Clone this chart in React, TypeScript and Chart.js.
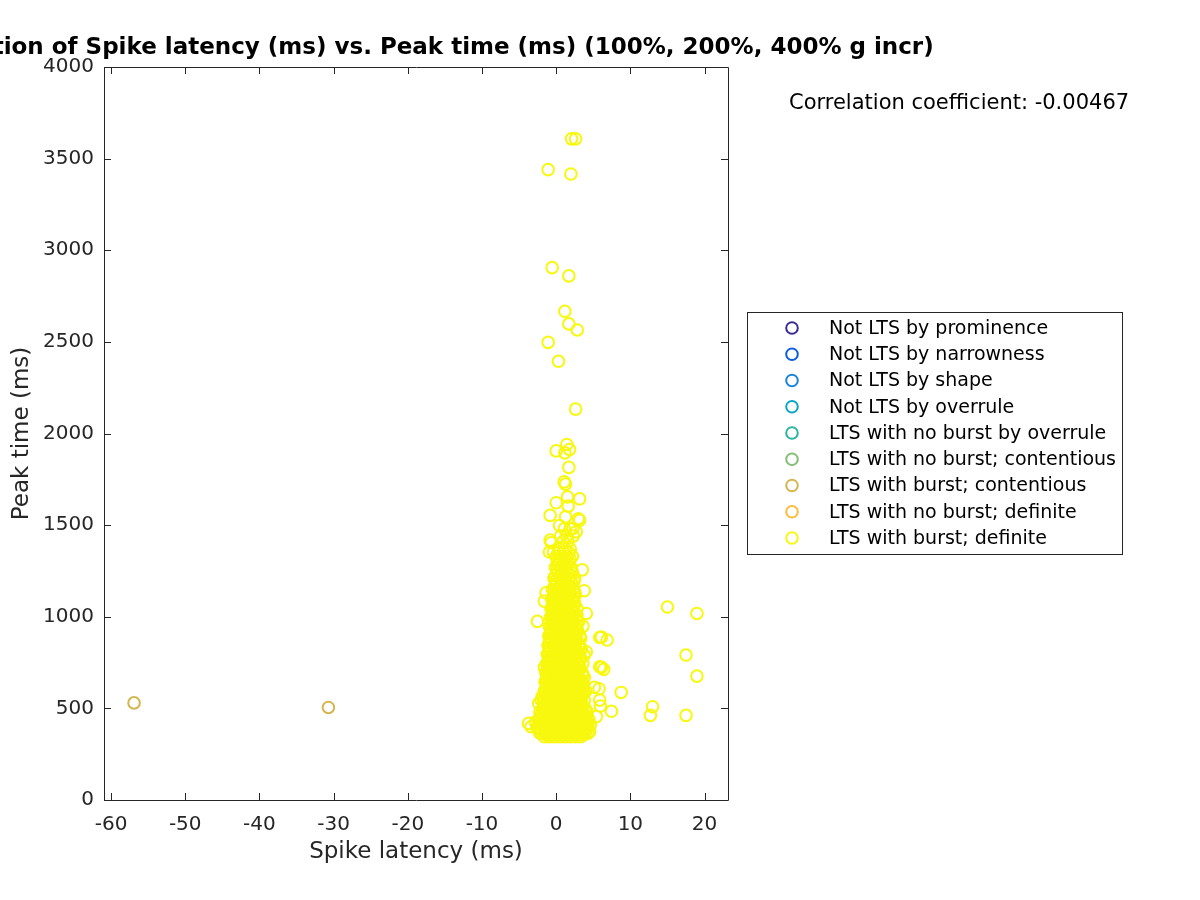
import React, { useEffect, useRef } from "react";
import { Chart, registerables } from "chart.js";

Chart.register(...registerables);

const seriesLabels = [
  "Not LTS by prominence",
  "Not LTS by narrowness",
  "Not LTS by shape",
  "Not LTS by overrule",
  "LTS with no burst by overrule",
  "LTS with no burst; contentious",
  "LTS with burst; contentious",
  "LTS with no burst; definite",
  "LTS with burst; definite",
];

const seriesColors = [
  "#3b2d91",
  "#0f5ddf",
  "#1a84d8",
  "#0aa6c6",
  "#2cb59f",
  "#87be76",
  "#d4b651",
  "#fbbd3a",
  "#f8f80f",
];

const notLtsProminence: number[][] = [];
const notLtsNarrowness: number[][] = [];
const notLtsShape: number[][] = [];
const notLtsOverrule: number[][] = [];
const ltsNoBurstOverrule: number[][] = [];
const ltsNoBurstContentious: number[][] = [];
const ltsBurstContentious: number[][] = [
  [-56.9, 530],
  [-30.7, 505],
];
const ltsNoBurstDefinite: number[][] = [];

// scattered outliers of "LTS with burst; definite"
const burstDefiniteOutliers: number[][] = [
  [2.07, 3608], [2.62, 3608], [-1.08, 3440], [1.98, 3416], [-0.54, 2905],
  [1.71, 2860], [1.17, 2667], [1.71, 2598], [2.85, 2565], [-1.08, 2497],
  [0.31, 2394], [2.62, 2133], [1.44, 1940], [0.0, 1905], [1.17, 1894],
  [1.8, 1913], [1.71, 1815], [1.08, 1736], [1.26, 1724], [3.16, 1643],
  [0.0, 1622], [1.53, 1654], [1.62, 1604], [-0.81, 1553], [2.98, 1535],
  [3.16, 1527], [1.26, 1545], [0.45, 1498], [2.71, 1464], [2.25, 1482],
  [-0.81, 1418], [-0.91, 1353], [-0.68, 1404], [-0.37, 1354], [3.52, 1256],
  [3.79, 1142], [4.06, 1018], [-2.53, 975], [-1.36, 1131], [-1.59, 1085],
  [3.61, 949], [5.87, 887], [6.86, 873], [6.1, 889], [4.06, 809], [3.79, 791],
  [-1.59, 724], [-1.36, 655], [5.87, 727], [6.41, 713], [6.1, 724],
  [5.15, 615], [5.78, 607], [8.76, 587], [-1.9, 564], [-2.35, 527],
  [5.87, 545], [5.96, 513], [7.45, 484], [13.0, 509], [12.7, 462],
  [17.5, 462], [-3.71, 418], [-3.39, 400], [-2.03, 364], [5.42, 455],
  [4.51, 373], [15.0, 1053], [18.97, 1018], [17.5, 791], [18.97, 676],
];

// dense core of "LTS with burst; definite": [peak time, ...spike latencies]
const burstDefiniteCore: number[][] = [
  [345, -1.6, -0.9, -0.2, 0.5, 1.2, 1.9, 2.6, 3.3],
  [365, -2.2, -1.3, -0.6, 0.1, 0.8, 1.5, 2.2, 2.9, 3.6, 4.3],
  [380, -1.9, -1.0, -0.3, 0.4, 1.1, 1.8, 2.5, 3.2, 3.9],
  [395, -2.6, -1.5, -0.8, -0.1, 0.6, 1.3, 2.0, 2.7, 3.4, 4.1],
  [410, -2.1, -1.2, -0.5, 0.2, 0.9, 1.6, 2.3, 3.0, 3.7, 4.6],
  [425, -2.8, -1.7, -0.9, -0.2, 0.5, 1.2, 1.9, 2.6, 3.3, 4.0],
  [440, -2.3, -1.4, -0.6, 0.1, 0.8, 1.5, 2.2, 2.9, 3.6, 4.4],
  [460, -1.9, -1.1, -0.3, 0.4, 1.1, 1.8, 2.5, 3.2, 3.9],
  [480, -2.2, -1.4, -0.7, 0.0, 0.7, 1.4, 2.1, 2.8, 3.5, 4.2],
  [500, -1.8, -1.0, -0.3, 0.4, 1.1, 1.8, 2.5, 3.2, 3.9],
  [520, -1.5, -0.7, 0.0, 0.7, 1.4, 2.1, 2.8, 3.5],
  [545, -2.0, -1.1, -0.4, 0.3, 1.0, 1.7, 2.4, 3.1, 3.8],
  [570, -1.4, -0.7, 0.0, 0.7, 1.4, 2.1, 2.8, 3.5],
  [595, -1.6, -0.9, -0.2, 0.5, 1.2, 1.9, 2.6, 3.3, 4.0],
  [620, -1.2, -0.5, 0.2, 0.9, 1.6, 2.3, 3.0, 3.7],
  [645, -1.5, -0.8, -0.1, 0.6, 1.3, 2.0, 2.7, 3.4],
  [670, -1.1, -0.4, 0.3, 1.0, 1.7, 2.4, 3.1, 3.8],
  [695, -1.4, -0.7, 0.0, 0.7, 1.4, 2.1, 2.8, 3.5],
  [720, -1.0, -0.3, 0.4, 1.1, 1.8, 2.5, 3.2],
  [745, -1.3, -0.6, 0.1, 0.8, 1.5, 2.2, 2.9, 3.6],
  [770, -0.9, -0.2, 0.5, 1.2, 1.9, 2.6, 3.3],
  [795, -1.2, -0.5, 0.2, 0.9, 1.6, 2.3, 3.0],
  [820, -0.8, -0.1, 0.6, 1.3, 2.0, 2.7, 3.4],
  [845, -1.1, -0.4, 0.3, 1.0, 1.7, 2.4, 3.1],
  [870, -0.7, 0.0, 0.7, 1.4, 2.1, 2.8],
  [895, -1.0, -0.3, 0.4, 1.1, 1.8, 2.5, 3.2],
  [920, -0.6, 0.1, 0.8, 1.5, 2.2, 2.9],
  [945, -0.9, -0.2, 0.5, 1.2, 1.9, 2.6],
  [970, -0.5, 0.2, 0.9, 1.6, 2.3, 3.0],
  [995, -0.8, -0.1, 0.6, 1.3, 2.0, 2.7],
  [1020, -0.4, 0.3, 1.0, 1.7, 2.4],
  [1045, -0.7, 0.0, 0.7, 1.4, 2.1, 2.8],
  [1070, -0.3, 0.4, 1.1, 1.8, 2.5],
  [1095, -0.6, 0.1, 0.8, 1.5, 2.2],
  [1120, -0.2, 0.5, 1.2, 1.9, 2.6],
  [1150, -0.5, 0.2, 0.9, 1.6, 2.3],
  [1180, 0.0, 0.7, 1.4, 2.1],
  [1210, -0.3, 0.4, 1.1, 1.8, 2.5],
  [1240, 0.2, 0.9, 1.6, 2.2],
  [1270, -0.1, 0.6, 1.3, 2.0],
  [1300, 0.3, 1.0, 1.7],
  [1330, 0.0, 0.8, 1.5, 2.2],
  [1370, 0.4, 1.2, 1.9],
  [1410, 0.9, 1.6],
  [1440, 0.6, 1.4, 2.3],
  [1480, 1.1, 1.9],
];

// second, interleaved layer of the dense core: [peak time, ...spike latencies]
const burstDefiniteCoreB: number[][] = [
  [355, -1.3, -0.6, 0.2, 0.9, 1.6, 2.3, 3.0, 3.7],
  [372, -1.6, -0.7, 0.0, 0.7, 1.4, 2.1, 2.8, 3.5, 4.0],
  [388, -2.3, -1.4, -0.6, 0.1, 0.8, 1.5, 2.2, 2.9, 3.6],
  [402, -1.8, -1.0, -0.3, 0.4, 1.1, 1.8, 2.5, 3.2, 3.9],
  [418, -2.4, -1.4, -0.7, 0.0, 0.7, 1.4, 2.1, 2.8, 3.5, 4.3],
  [432, -2.0, -1.2, -0.5, 0.2, 0.9, 1.6, 2.3, 3.0, 3.7],
  [450, -1.7, -0.9, -0.2, 0.5, 1.2, 1.9, 2.6, 3.3, 4.1],
  [470, -2.0, -1.3, -0.6, 0.1, 0.8, 1.5, 2.2, 2.9, 3.6],
  [490, -1.6, -0.9, -0.2, 0.5, 1.2, 1.9, 2.6, 3.3, 4.0],
  [510, -1.3, -0.6, 0.1, 0.8, 1.5, 2.2, 2.9, 3.6],
  [532, -1.7, -0.9, -0.2, 0.5, 1.2, 1.9, 2.6, 3.3],
  [558, -1.6, -0.8, -0.1, 0.6, 1.3, 2.0, 2.7, 3.4],
  [582, -1.2, -0.5, 0.2, 0.9, 1.6, 2.3, 3.0, 3.7],
  [608, -1.4, -0.6, 0.1, 0.8, 1.5, 2.2, 2.9, 3.5],
  [632, -1.3, -0.6, 0.1, 0.8, 1.5, 2.2, 2.9, 3.6],
  [658, -1.2, -0.5, 0.2, 0.9, 1.6, 2.3, 3.0],
  [682, -1.3, -0.6, 0.1, 0.8, 1.5, 2.2, 2.9, 3.6],
  [708, -1.2, -0.5, 0.2, 0.9, 1.6, 2.3, 3.0],
  [732, -1.1, -0.4, 0.3, 1.0, 1.7, 2.4, 3.1],
  [758, -1.1, -0.4, 0.3, 1.0, 1.7, 2.4, 3.1],
  [782, -1.0, -0.3, 0.4, 1.1, 1.8, 2.5, 3.2],
  [808, -1.0, -0.3, 0.4, 1.1, 1.8, 2.5],
  [832, -0.9, -0.2, 0.5, 1.2, 1.9, 2.6, 3.3],
  [858, -0.9, -0.2, 0.5, 1.2, 1.9, 2.6],
  [882, -0.8, -0.1, 0.6, 1.3, 2.0, 2.7, 3.3],
  [908, -0.8, -0.1, 0.6, 1.3, 2.0, 2.7],
  [932, -0.7, 0.0, 0.7, 1.4, 2.1, 2.8],
  [958, -0.7, 0.0, 0.7, 1.4, 2.1, 2.8],
  [982, -0.6, 0.1, 0.8, 1.5, 2.2],
  [1008, -0.6, 0.1, 0.8, 1.5, 2.2, 2.8],
  [1032, -0.5, 0.2, 0.9, 1.6, 2.3],
  [1058, -0.5, 0.2, 0.9, 1.6, 2.3],
  [1082, -0.4, 0.3, 1.0, 1.7, 2.4],
  [1108, -0.4, 0.3, 1.0, 1.7, 2.4],
  [1135, -0.3, 0.4, 1.1, 1.8, 2.5],
  [1165, -0.2, 0.5, 1.2, 1.9],
  [1195, -0.1, 0.6, 1.3, 2.0, 2.4],
  [1225, -0.1, 0.6, 1.3, 2.0],
  [1255, 0.1, 0.8, 1.5, 2.1],
  [1285, 0.2, 0.9, 1.5],
  [1315, 0.1, 0.6, 1.2, 1.9],
  [1350, 0.3, 1.0, 1.7],
];

const xTickValues = [-60, -50, -40, -30, -20, -10, 0, 10, 20];
const yTickValues = [0, 500, 1000, 1500, 2000, 2500, 3000, 3500, 4000];

const titleText =
  "Correlation of Spike latency (ms) vs. Peak time (ms) (100%, 200%, 400% g incr)";
const xLabelText = "Spike latency (ms)";
const yLabelText = "Peak time (ms)";
const corrText = "Correlation coefficient: -0.00467";

const FONT = "'DejaVu Sans', sans-serif";
const AXIS_COLOR = "#262626";

function toPoints(pairs: number[][]) {
  return pairs.map((p) => ({ x: p[0], y: p[1] }));
}

function rowPoints(rows: number[][]) {
  const out: { x: number; y: number }[] = [];
  rows.forEach((row) => {
    for (let i = 1; i < row.length; i++) out.push({ x: row[i], y: row[0] });
  });
  return out;
}

export default function App() {
  const ref = useRef<HTMLCanvasElement | null>(null);

  useEffect(() => {
    if (!ref.current) return;
    const seriesData = [
      toPoints(notLtsProminence),
      toPoints(notLtsNarrowness),
      toPoints(notLtsShape),
      toPoints(notLtsOverrule),
      toPoints(ltsNoBurstOverrule),
      toPoints(ltsNoBurstContentious),
      toPoints(ltsBurstContentious),
      toPoints(ltsNoBurstDefinite),
      [...rowPoints(burstDefiniteCore), ...rowPoints(burstDefiniteCoreB), ...toPoints(burstDefiniteOutliers)],
    ];

    const decor = {
      id: "matlabDecor",
      afterDraw(chart: any) {
        const ctx = chart.ctx;
        const a = chart.chartArea;
        const xs = chart.scales.x;
        const ys = chart.scales.y;
        ctx.save();
        // box
        ctx.strokeStyle = AXIS_COLOR;
        ctx.lineWidth = 1;
        ctx.beginPath();
        ctx.rect(Math.round(a.left) + 0.5, Math.round(a.top) + 0.5,
          Math.round(a.right - a.left), Math.round(a.bottom - a.top));
        ctx.stroke();
        // ticks inward
        const tl = 7;
        ctx.beginPath();
        xTickValues.forEach((v) => {
          const px = Math.round(xs.getPixelForValue(v)) + 0.5;
          ctx.moveTo(px, a.bottom);
          ctx.lineTo(px, a.bottom - tl);
          ctx.moveTo(px, a.top);
          ctx.lineTo(px, a.top + tl);
        });
        yTickValues.forEach((v) => {
          const py = Math.round(ys.getPixelForValue(v)) + 0.5;
          ctx.moveTo(a.left, py);
          ctx.lineTo(a.left + tl, py);
          ctx.moveTo(a.right, py);
          ctx.lineTo(a.right - tl, py);
        });
        ctx.stroke();

        const cx = (a.left + a.right) / 2;
        // title
        ctx.fillStyle = "#000000";
        ctx.font = `bold 23px ${FONT}`;
        ctx.textAlign = "center";
        ctx.textBaseline = "middle";
        ctx.fillText(titleText, cx, 48);
        // axis labels
        ctx.fillStyle = AXIS_COLOR;
        ctx.font = `23px ${FONT}`;
        ctx.fillText(xLabelText, cx, 852);
        ctx.save();
        ctx.translate(22, (a.top + a.bottom) / 2);
        ctx.rotate(-Math.PI / 2);
        ctx.fillText(yLabelText, 0, 0);
        ctx.restore();
        // correlation text
        ctx.fillStyle = "#000000";
        ctx.font = `21px ${FONT}`;
        ctx.textAlign = "left";
        ctx.fillText(corrText, 789, 104);
        // legend
        const lx = 747.5, ly = 312.5, lw = 375, lh = 242;
        ctx.fillStyle = "#ffffff";
        ctx.fillRect(lx, ly, lw, lh);
        ctx.strokeStyle = AXIS_COLOR;
        ctx.lineWidth = 1;
        ctx.strokeRect(lx, ly, lw, lh);
        ctx.font = `19px ${FONT}`;
        ctx.textBaseline = "middle";
        seriesLabels.forEach((lab, i) => {
          const yy = 328 + i * 26.25;
          ctx.beginPath();
          ctx.strokeStyle = seriesColors[i];
          ctx.lineWidth = 2;
          ctx.arc(792, yy, 5.8, 0, Math.PI * 2);
          ctx.stroke();
          ctx.fillStyle = "#000000";
          ctx.fillText(lab, 829, yy + 1);
        });
        ctx.restore();
      },
    };

    const chart = new Chart(ref.current, {
      type: "scatter",
      data: {
        datasets: seriesLabels.map((lab, i) => ({
          label: lab,
          data: seriesData[i],
          borderColor: seriesColors[i],
          backgroundColor: "rgba(0,0,0,0)",
          pointRadius: 5.8,
          pointHoverRadius: 5.8,
          pointBorderWidth: 2,
          pointStyle: "circle",
        })),
      },
      options: {
        responsive: false,
        animation: false,
        events: [],
        layout: { padding: { left: 0, top: 67, right: 472, bottom: 0 } },
        plugins: { legend: { display: false }, title: { display: false }, tooltip: { enabled: false } },
        scales: {
          x: {
            type: "linear",
            min: -60.95,
            max: 23.16,
            grid: { display: false },
            border: { display: false },
            afterFit: (s: any) => { s.height = 100; },
            afterBuildTicks: (s: any) => { s.ticks = xTickValues.map((v) => ({ value: v })); },
            ticks: {
              color: AXIS_COLOR,
              font: { family: FONT, size: 20 },
              padding: 5,
              maxRotation: 0,
              callback: (v: any) => String(v),
            },
          },
          y: {
            type: "linear",
            min: 0,
            max: 4000,
            grid: { display: false },
            border: { display: false },
            afterFit: (s: any) => { s.width = 104; },
            afterBuildTicks: (s: any) => { s.ticks = yTickValues.map((v) => ({ value: v })); },
            ticks: {
              color: AXIS_COLOR,
              font: { family: FONT, size: 20 },
              padding: 2,
              callback: (v: any) => String(v),
            },
          },
        },
      },
      plugins: [decor],
    });
    return () => chart.destroy();
  }, []);

  return (
    <div style={{ position: "absolute", left: 0, top: 0, width: 1200, height: 900, background: "#ffffff" }}>
      <canvas ref={ref} width={1200} height={900} style={{ width: 1200, height: 900, display: "block" }} />
    </div>
  );
}
